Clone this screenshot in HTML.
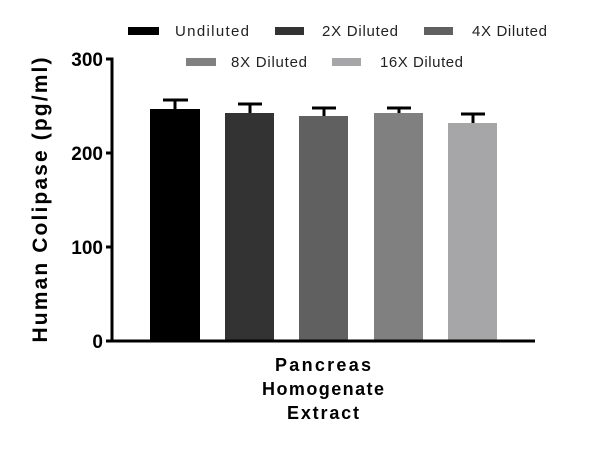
<!DOCTYPE html>
<html><head><style>body{margin:0;background:#fff}</style></head><body>
<svg width="600" height="465" xmlns="http://www.w3.org/2000/svg" font-family="Liberation Sans, sans-serif">
<rect width="600" height="465" fill="#fff"/>
<g font-size="15" fill="#222">
<rect x="128" y="27" width="31" height="8" fill="#000"/><text x="175" y="36" textLength="74">Undiluted</text>
<rect x="275" y="27" width="29" height="8" fill="#333"/><text x="322" y="36" textLength="76">2X Diluted</text>
<rect x="424" y="27" width="29" height="8" fill="#606060"/><text x="472" y="36" textLength="75">4X Diluted</text>
<rect x="186" y="58" width="30" height="8" fill="#808080"/><text x="231" y="67" textLength="76">8X Diluted</text>
<rect x="332" y="58" width="29" height="8" fill="#a6a6a8"/><text x="380" y="67" textLength="83">16X Diluted</text>
</g>
<g fill="none" stroke="#000" stroke-width="3">
<line x1="175" y1="109" x2="175" y2="100"/><line x1="163" y1="100" x2="188" y2="100"/>
<line x1="250" y1="113" x2="250" y2="104"/><line x1="238" y1="104" x2="262" y2="104"/>
<line x1="324" y1="116" x2="324" y2="108"/><line x1="312" y1="108" x2="336" y2="108"/>
<line x1="399" y1="113" x2="399" y2="108"/><line x1="387" y1="108" x2="411" y2="108"/>
<line x1="473" y1="123" x2="473" y2="114"/><line x1="461" y1="114" x2="485" y2="114"/>
</g>
<rect x="150" y="109" width="50" height="232" fill="#000"/>
<rect x="225" y="113" width="49" height="228" fill="#333"/>
<rect x="299" y="116" width="49" height="225" fill="#606060"/>
<rect x="374" y="113" width="49" height="228" fill="#808080"/>
<rect x="448" y="123" width="49" height="218" fill="#a6a6a8"/>
<g stroke="#000" stroke-width="3" fill="none">
<polyline points="106,59 112,59 112,341 535,341"/>
<line x1="106" y1="153" x2="112" y2="153"/>
<line x1="106" y1="247" x2="112" y2="247"/>
<line x1="106" y1="341" x2="112" y2="341"/>
</g>
<g font-size="19" font-weight="bold" text-anchor="end">
<text x="103" y="66">300</text><text x="103" y="160">200</text><text x="103" y="254">100</text><text x="103" y="348">0</text>
</g>
<text transform="translate(47,200) rotate(-90)" text-anchor="middle" font-size="21" font-weight="bold" textLength="285" lengthAdjust="spacing">Human Colipase (pg/ml)</text>
<g font-size="18" font-weight="bold" text-anchor="middle">
<text x="323" y="371" textLength="96">Pancreas</text><text x="323" y="395" textLength="122">Homogenate</text><text x="323" y="419" textLength="72">Extract</text>
</g>
</svg>
</body></html>
